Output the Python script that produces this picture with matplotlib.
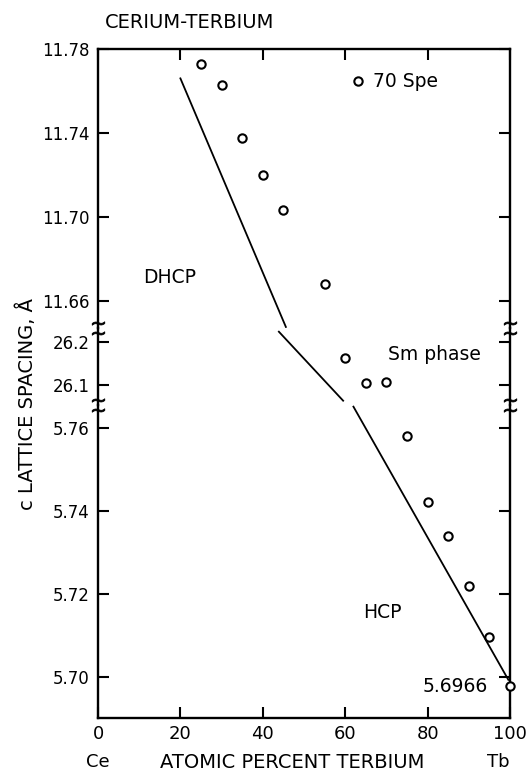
import matplotlib.pyplot as plt
from matplotlib.lines import Line2D

# ---------------------------------
# data
# ---------------------------------
# DHCP region (c axis around 11.7 A)
dhcpX = [25, 30, 35, 40, 45, 55]
dhcpC = [11.773, 11.763, 11.7375, 11.720, 11.7035, 11.668]
# Sm-type phase (c axis around 26.1 A)
smX = [60, 65, 70]
smC = [26.162, 26.105, 26.108]
# HCP region (c axis around 5.7 A)
hcpX = [75, 80, 85, 90, 95, 100]
hcpC = [5.758, 5.7422, 5.734, 5.7218, 5.7096, 5.6977]

# the straight lines drawn through each phase region
dhcpLineX = [20, 45.6]
dhcpLineC = [11.766, 11.6476]
smLineX = [43.9, 59.5]
smLineC = [26.224, 26.0635]
hcpLineX = [62.0, 99.6]
hcpLineC = [5.7651, 5.6993]

xTicks = [0, 20, 40, 60, 80, 100]
dhcpTicks = [11.66, 11.70, 11.74, 11.78]
dhcpTickLabels = ["11.66", "11.70", "11.74", "11.78"]
smTicks = [26.1, 26.2]
smTickLabels = ["26.1", "26.2"]
hcpTicks = [5.70, 5.72, 5.74, 5.76]
hcpTickLabels = ["5.70", "5.72", "5.74", "5.76"]

W, H = 530, 770
left, right = 98, 510
top, break1, break2, bottom = 49, 328, 405, 718

plt.rcParams['font.family'] = ['DejaVu Sans']
plt.rcParams['font.size'] = 12

fig = plt.figure(figsize=(W / 100, H / 100), dpi=100)


def makeAxes(y0, y1):
    return fig.add_axes([left / W, 1 - y1 / H, (right - left) / W, (y1 - y0) / H])


axTop = makeAxes(top, break1)
axMid = makeAxes(break1, break2)
axBot = makeAxes(break2, bottom)

axTop.set_ylim(11.6471, 11.78)
axMid.set_ylim(26.0535, 26.2326)
axBot.set_ylim(5.6901, 5.7655)

mk = dict(ls='none', marker='o', ms=6, mfc='white', mec='black', mew=1.5)
ln = dict(color='black', lw=1.3)

axTop.plot(dhcpLineX, dhcpLineC, **ln)
axTop.plot(dhcpX, dhcpC, **mk)
axMid.plot(smLineX, smLineC, **ln)
axMid.plot(smX, smC, **mk)
axBot.plot(hcpLineX, hcpLineC, **ln)
axBot.plot(hcpX, hcpC, clip_on=False, zorder=5, **mk)

for ax, ticks, labels in [(axTop, dhcpTicks, dhcpTickLabels),
                          (axMid, smTicks, smTickLabels),
                          (axBot, hcpTicks, hcpTickLabels)]:
    ax.set_xlim(0, 100)
    ax.set_xticks(xTicks)
    ax.set_yticks(ticks)
    ax.set_yticklabels(labels)
    ax.tick_params(direction='in', length=8, width=1.5, pad=6,
                   left=True, right=True, top=False, bottom=False,
                   labelbottom=False)
    for s in ax.spines.values():
        s.set_linewidth(1.7)
    ax.patch.set_alpha(0)

axTop.spines['bottom'].set_visible(False)
axTop.tick_params(top=True)
axMid.spines['top'].set_visible(False)
axMid.spines['bottom'].set_visible(False)
axBot.spines['top'].set_visible(False)
axBot.tick_params(bottom=True, labelbottom=True)
axBot.tick_params(axis='x', pad=5, labelsize=13)

# labels inside the plot
lab = 13.5
axTop.text(10.9, 11.671, "DHCP", va='center', ha='left', fontsize=lab)
axMid.text(70.4, 26.172, "Sm phase", va='center', ha='left', fontsize=lab)
axBot.text(64.3, 5.7154, "HCP", va='center', ha='left', fontsize=lab)
axBot.text(94.7, 5.6978, "5.6966", va='center', ha='right', fontsize=lab)

handle = Line2D([], [], **mk)
axTop.legend([handle], ["70 Spe"], loc='center left', frameon=False,
             bbox_to_anchor=(0.617, 0.883), handlelength=0.6,
             handletextpad=0.5, borderpad=0, borderaxespad=0, fontsize=lab)

# break marks (small tildes) on both spines
for yb in [break1, break2]:
    for xs in [left, right]:
        fig.add_artist(Line2D([xs / W, xs / W],
                              [1 - (yb - 5) / H, 1 - (yb + 5) / H],
                              transform=fig.transFigure, ls='none',
                              marker='$\\sim$', ms=9, mew=0.6, color='black'))

fig.text(105 / W, 1 - 22 / H, "CERIUM-TERBIUM", ha='left', va='center', fontsize=14)
fig.text(27 / W, 1 - 404 / H, "c LATTICE SPACING, Å", rotation=90,
         ha='center', va='center', fontsize=14)
fig.text(98 / W, 1 - 762 / H, "Ce", ha='center', va='center', fontsize=13)
fig.text(292 / W, 1 - 762 / H, "ATOMIC PERCENT TERBIUM", ha='center', va='center',
         fontsize=14)
fig.text(498 / W, 1 - 762 / H, "Tb", ha='center', va='center', fontsize=13)

fig.savefig("out.png", dpi=100)
